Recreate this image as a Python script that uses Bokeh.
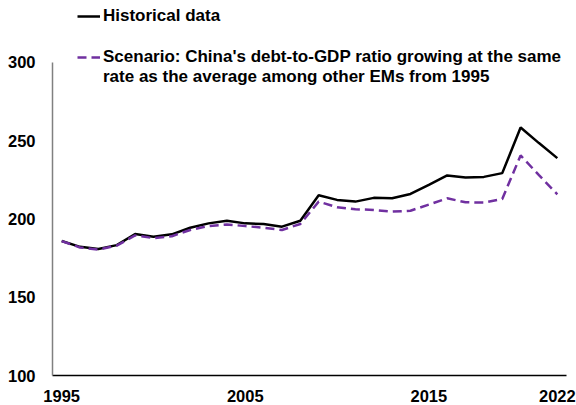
from bokeh.plotting import figure
from bokeh.models import Range1d, FixedTicker, Legend, LegendItem
from bokeh.embed import file_html
from bokeh.resources import INLINE

years = list(range(1995, 2023))
historical = [185.9, 182.2, 180.8, 183.3, 190.4, 188.7, 190.2, 194.4, 197.2, 198.9,
              197.2, 196.8, 195.1, 198.9, 215.2, 212.2, 211.1, 213.5, 213.2, 216.0,
              221.8, 227.8, 226.5, 226.9, 229.3, 258.5, 248.5, 238.9]
scenario = [185.9, 181.8, 180.5, 183.0, 189.5, 187.8, 189.0, 193.0, 195.5, 196.5,
            195.5, 194.4, 193.0, 196.8, 211.1, 207.5, 206.2, 205.8, 204.7, 205.3,
            209.2, 213.2, 210.7, 210.5, 212.8, 240.6, 228.0, 215.8]
x_ticks = [1995, 2005, 2015, 2022]
y_ticks = [100, 150, 200, 250, 300]
label_hist = "Historical data"
label_scen_1 = "Scenario: China's debt-to-GDP ratio growing at the same"
label_scen_2 = "rate as the average among other EMs from 1995"

FONT = "Liberation Sans"

# frame spans the full height so the legend (which sits above the 300 line) is not clipped
p = figure(width=576, height=405, output_backend="svg", toolbar_location=None,
           x_range=Range1d(1994.5, 2022.5), y_range=Range1d(100, 339.6),
           min_border_left=52, min_border_right=10, min_border_top=0, min_border_bottom=30)
p.outline_line_color = None
p.grid.visible = False
p.background_fill_color = "white"
p.border_fill_color = "white"

r_hist = p.line(years, historical, line_color="black", line_width=2.5)
r_scen = p.line(years, scenario, line_color="#7030A0", line_width=2.5, line_dash="9 5")
r_dummy = p.line([], [], line_alpha=0)

for ax in (p.xaxis[0], p.yaxis[0]):
    ax.major_tick_line_color = None
    ax.minor_tick_line_color = None
    ax.major_tick_out = 0
    ax.major_tick_in = 0
    ax.major_label_text_font = FONT
    ax.major_label_text_font_style = "bold"
    ax.major_label_text_font_size = "16.5px"
    ax.major_label_text_color = "black"
    ax.axis_line_width = 1.5

p.xaxis.ticker = FixedTicker(ticks=x_ticks)
p.xaxis.axis_line_color = "black"
p.xaxis.major_label_standoff = 14
p.yaxis.ticker = FixedTicker(ticks=y_ticks)
p.yaxis.axis_line_color = "#808080"
p.yaxis.major_label_standoff = 17
p.yaxis.bounds = (100, 300)


def make_legend(items, loc):
    return Legend(items=items, location=loc, orientation="vertical",
                  padding=0, margin=0, spacing=-3,
                  glyph_width=23, glyph_height=14, label_height=14, label_standoff=3,
                  border_line_alpha=0, background_fill_alpha=0,
                  label_text_font=FONT, label_text_font_style="bold",
                  label_text_font_size="17px", label_text_color="black")

leg_a = make_legend([LegendItem(label=label_hist, renderers=[r_hist])], (25, 349))
leg_b = make_legend([LegendItem(label=label_scen_1, renderers=[r_scen]),
                     LegendItem(label=label_scen_2, renderers=[r_dummy])], (25, 288))
p.add_layout(leg_a)
p.add_layout(leg_b)

open("out.html", "w").write(file_html(p, INLINE))
